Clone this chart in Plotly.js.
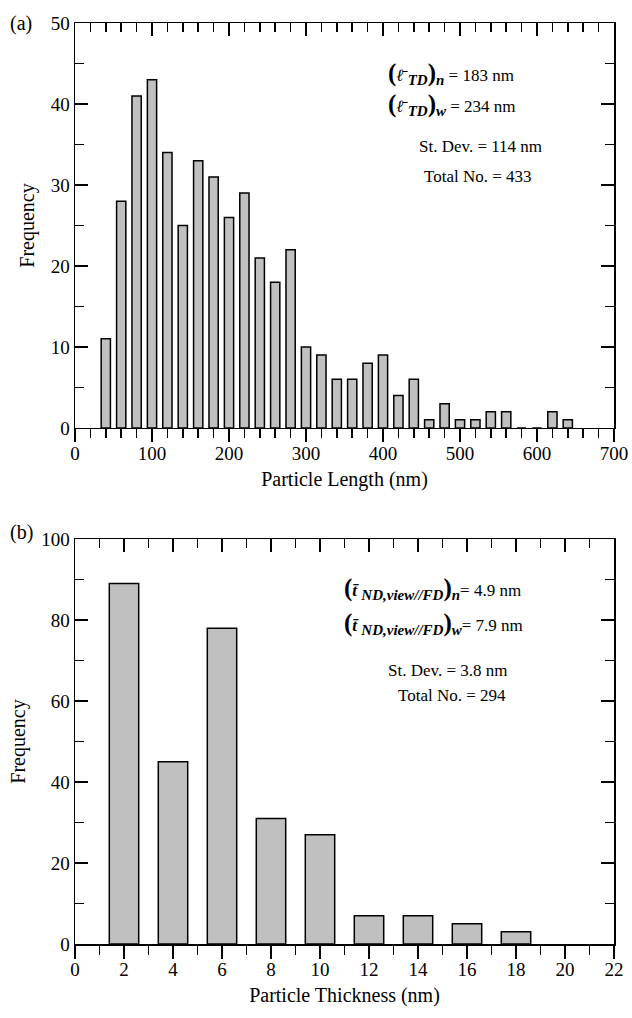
<!DOCTYPE html>
<html>
<head>
<meta charset="utf-8">
<script src="https://cdn.plot.ly/plotly-3.0.1.min.js"></script>
<style>html,body{margin:0;padding:0;background:#fff;}#chart{width:632px;height:1018px;}</style>
</head>
<body>
<div id="chart"></div>
<script>
// Panel (a): particle length histogram
const lengthBins = [40,60,80,100,120,140,160,180,200,220,240,260,280,300,320,340,360,380,400,420,440,460,480,500,520,540,560,580,600,620,640];
const lengthCounts = [11,28,41,43,34,25,33,31,26,29,21,18,22,10,9,6,6,8,9,4,6,1,3,1,1,2,2,0,0,2,1];
// Panel (b): particle thickness histogram
const thickBins = [2,4,6,8,10,12,14,16,18];
const thickCounts = [89,45,78,31,27,7,7,5,3];

const FONT = 'Liberation Serif, Times New Roman, serif';
const big = s => '<span style="font-size:25px;font-weight:bold">' + s + '</span>';
const sub = s => '<sub><span style="font-size:15px"><b><i>' + s + '</i></b></span></sub>';

const barStyle = {color:'#c0c0c0', line:{color:'#000', width:1.5}};
const traces = [
  {type:'bar', x:lengthBins, y:lengthCounts, width:12, marker:barStyle, xaxis:'x', yaxis:'y'},
  {type:'bar', x:thickBins, y:thickCounts, width:1.2, marker:barStyle, xaxis:'x2', yaxis:'y2'},
  {type:'scatter', x:[], y:[], xaxis:'x3', yaxis:'y', showlegend:false},
  {type:'scatter', x:[], y:[], xaxis:'x4', yaxis:'y2', showlegend:false}
];

function axis(extra){
  return Object.assign({
    showline:true, linecolor:'#000', linewidth:1.5,
    ticklen:13, tickwidth:1.5, tickcolor:'#000',
    showgrid:false, zeroline:false,
    tickfont:{family:FONT, size:19, color:'#000'}
  }, extra);
}
const minorTicks = (d, dir) => ({dtick:d, ticklen:9, tickwidth:1.5, ticks:dir, tickcolor:'#000', showgrid:false});

const layout = {
  width:632, height:1018,
  margin:{l:75, r:18, t:23, b:74},
  paper_bgcolor:'#fff', plot_bgcolor:'#fff',
  showlegend:false,
  font:{family:FONT, color:'#000'},
  // bottom x axes: ticks pointing out, box line mirrored on top
  xaxis: axis({domain:[0,1], range:[0,700], dtick:100, tick0:0, anchor:'y', mirror:true, ticks:'outside',
    ticklabelstandoff:-5, minor:minorTicks(20,'outside'),
    title:{text:'Particle Length (nm)', font:{family:FONT, size:20}, standoff:8}}),
  xaxis2: axis({domain:[0,1], range:[0,22], dtick:2, tick0:0, anchor:'y2', mirror:true, ticks:'outside',
    ticklabelstandoff:-5, minor:minorTicks(1,'outside'),
    title:{text:'Particle Thickness (nm)', font:{family:FONT, size:20}, standoff:8}}),
  // top tick rows: inside ticks on the upper frame
  xaxis3: axis({overlaying:'x', side:'top', anchor:'y', range:[0,700], dtick:100, tick0:0, ticks:'inside',
    showline:false, showticklabels:false, minor:minorTicks(20,'inside')}),
  xaxis4: axis({overlaying:'x2', side:'top', anchor:'y2', range:[0,22], dtick:2, tick0:0, ticks:'inside',
    showline:false, showticklabels:false, minor:minorTicks(1,'inside')}),
  yaxis: axis({domain:[0.5603,1], range:[0,50], dtick:10, tick0:0, anchor:'x', mirror:'ticks', ticks:'inside',
    minor:minorTicks(5,'inside'),
    title:{text:'Frequency', font:{family:FONT, size:20}, standoff:10}}),
  yaxis2: axis({domain:[0,0.4397], range:[0,100], dtick:20, tick0:0, anchor:'x2', mirror:'ticks', ticks:'inside',
    minor:minorTicks(10,'inside'),
    title:{text:'Frequency', font:{family:FONT, size:20}, standoff:10}}),
  annotations: [
    {xref:'paper', yref:'paper', x:-0.125, y:1, xanchor:'left', yanchor:'middle', showarrow:false,
     text:'(a)', font:{family:FONT, size:20}},
    {xref:'paper', yref:'paper', x:-0.125, y:0.4467, xanchor:'left', yanchor:'middle', showarrow:false,
     text:'(b)', font:{family:FONT, size:20}},
    {xref:'x', yref:'y', x:404, y:43.8, xanchor:'left', yanchor:'middle', showarrow:false,
     text: big('(') + '<i>ℓ̄</i> ' + sub('TD') + big(')') + sub('n') + ' = 183 nm',
     font:{family:FONT, size:17}},
    {xref:'x', yref:'y', x:404, y:39.9, xanchor:'left', yanchor:'middle', showarrow:false,
     text: big('(') + '<i>ℓ̄</i> ' + sub('TD') + big(')') + sub('w') + ' = 234 nm',
     font:{family:FONT, size:17}},
    {xref:'x', yref:'y', x:526, y:34.7, xanchor:'center', yanchor:'middle', showarrow:false,
     text:'St. Dev. = 114 nm', font:{family:FONT, size:17}},
    {xref:'x', yref:'y', x:523, y:31.0, xanchor:'center', yanchor:'middle', showarrow:false,
     text:'Total No. = 433', font:{family:FONT, size:17}},
    {xref:'x2', yref:'y2', x:10.9, y:87.9, xanchor:'left', yanchor:'middle', showarrow:false,
     text: big('(') + '<b><i>t̄</i></b> ' + sub('ND,view//FD') + big(')') + sub('n') + '= 4.9 nm',
     font:{family:FONT, size:17}},
    {xref:'x2', yref:'y2', x:10.9, y:79.1, xanchor:'left', yanchor:'middle', showarrow:false,
     text: big('(') + '<b><i>t̄</i></b> ' + sub('ND,view//FD') + big(')') + sub('w') + '= 7.9 nm',
     font:{family:FONT, size:17}},
    {xref:'x2', yref:'y2', x:15.2, y:67.5, xanchor:'center', yanchor:'middle', showarrow:false,
     text:'St. Dev. = 3.8 nm', font:{family:FONT, size:17}},
    {xref:'x2', yref:'y2', x:15.4, y:61.3, xanchor:'center', yanchor:'middle', showarrow:false,
     text:'Total No. = 294', font:{family:FONT, size:17}}
  ]
};

Plotly.newPlot('chart', traces, layout, {displayModeBar:false, staticPlot:true});
</script>
</body>
</html>
